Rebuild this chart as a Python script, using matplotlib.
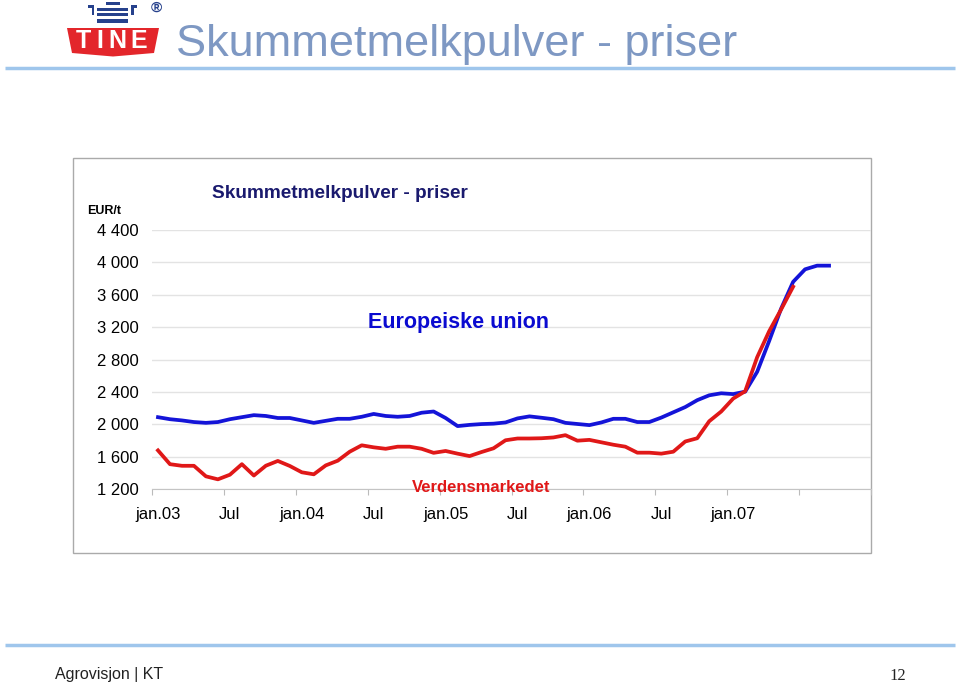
import matplotlib
matplotlib.use("Agg")
import matplotlib.pyplot as plt
from matplotlib.patches import Polygon, Rectangle
import numpy as np

plt.rcParams['font.family'] = ['Liberation Sans', 'DejaVu Sans']

# ---------------- data ----------------
tick_labels = ["jan.03", "Jul", "jan.04", "Jul", "jan.05", "Jul", "jan.06", "Jul", "jan.07"]
n_months = 60  # jan.03 .. des.07

eu_prices = [2090, 2065, 2050, 2030, 2020, 2030, 2065, 2090, 2115, 2105,
             2080, 2080, 2050, 2020, 2045, 2070, 2070, 2095, 2130, 2105,
             2095, 2105, 2145, 2160, 2080, 1980, 1995, 2005, 2010, 2025,
             2075, 2100, 2083, 2065, 2020, 2006, 1992, 2025, 2070, 2070,
             2030, 2030, 2085, 2150, 2215, 2300, 2360, 2385, 2375, 2405,
             2650, 3030, 3430, 3760, 3915, 3960, 3960]

world_prices = [1680, 1510, 1490, 1490, 1360, 1323, 1380, 1510, 1370, 1491,
                1550, 1488, 1410, 1385, 1495, 1553, 1664, 1743, 1718, 1700,
                1726, 1726, 1700, 1650, 1673, 1640, 1610, 1660, 1706, 1805,
                1827, 1827, 1830, 1840, 1868, 1800, 1810, 1780, 1750, 1726,
                1652, 1652, 1640, 1664, 1790, 1830, 2040, 2160, 2320, 2410,
                2830, 3150, 3420, 3700]

y_ticks = [1200, 1600, 2000, 2400, 2800, 3200, 3600, 4000, 4400]

# ---------------- figure ----------------
W, H = 960, 686
fig = plt.figure(figsize=(9.6, 6.86), dpi=100)
fig.patch.set_facecolor('white')

bg = fig.add_axes([0, 0, 1, 1])
bg.set_xlim(0, W)
bg.set_ylim(H, 0)
bg.axis('off')

# logo
bg.add_patch(Polygon([(67, 28), (159, 28), (154, 53), (113, 56.5), (72, 53)],
                     closed=True, fc='#e3262b', ec='none'))
for ch, cx in zip("TINE", [83.5, 100.3, 117.7, 139]):
    bg.text(cx, 48.5, ch, color='white', fontsize=18, fontweight='heavy',
            ha='center', va='baseline')
navy = '#26418c'
bg.add_patch(Rectangle((97, 8), 31, 3, fc=navy, ec='none'))
bg.add_patch(Rectangle((97, 13), 31, 3, fc=navy, ec='none'))
bg.add_patch(Rectangle((97, 18.5), 31, 4.5, fc=navy, ec='none'))
bg.add_patch(Rectangle((106, 2), 14, 3, fc=navy, ec='none'))
bg.add_patch(Rectangle((88, 5), 6, 2.5, fc=navy, ec='none'))
bg.add_patch(Rectangle((91.5, 5), 2.5, 10, fc=navy, ec='none'))
bg.add_patch(Rectangle((131, 5), 6, 2.5, fc=navy, ec='none'))
bg.add_patch(Rectangle((131, 5), 2.5, 10, fc=navy, ec='none'))
bg.text(156, 8, "®", color=navy, fontsize=11, fontweight='bold', ha='center', va='center')

# slide title
bg.text(176, 56, "Skummetmelkpulver - priser", fontsize=32.5, color='#7e98c3',
        ha='left', va='baseline')
bg.plot([5, 955], [68, 68], color='#9fc6ec', lw=2.5, solid_capstyle='butt')

# chart frame
bg.add_patch(Rectangle((73, 158), 798, 395, fill=False, ec='#aaaaaa', lw=1))

# chart texts
bg.text(340, 198, "Skummetmelkpulver - priser", fontsize=13.7, fontweight='bold',
        color='#1a1a6e', ha='center', va='baseline')
bg.text(87, 214, "EUR/t", fontsize=9, fontweight='bold', color='black',
        ha='left', va='baseline')

# footer
bg.plot([5, 955], [645, 645], color='#9fc6ec', lw=2.5, solid_capstyle='butt')
bg.text(55, 675, "Agrovisjon | KT", fontsize=11.5,
        family=['Liberation Sans Narrow', 'Liberation Sans', 'DejaVu Sans'],
        color='#222222', ha='left', va='center')
bg.text(898, 676, "12", fontsize=12, family=['Liberation Serif', 'DejaVu Serif'],
        color='#222222', ha='center', va='center')

# ---------------- chart ----------------
ax = fig.add_axes([152 / W, 1 - 489.3 / H, 719 / W, 259.3 / H])
ax.patch.set_alpha(0)
ax.set_xlim(-0.5, n_months - 0.5)
ax.set_ylim(y_ticks[0], y_ticks[-1])

ax.plot(np.arange(len(eu_prices)), eu_prices, color='#1414d8', lw=2.7,
        solid_joinstyle='round', zorder=3)
ax.plot(np.arange(len(world_prices)), world_prices, color='#e01818', lw=2.7,
        solid_joinstyle='round', zorder=3)

# series labels (drawn on top of grid lines / axis line)
ax.text(368, 328, "Europeiske union", fontsize=15.5, fontweight='bold',
        color='#0a0ad0', ha='left', va='baseline', transform=bg.transData,
        clip_on=False, zorder=5)
ax.text(412, 491.5, "Verdensmarkedet", fontsize=12, fontweight='bold',
        color='#e01818', ha='left', va='baseline', transform=bg.transData,
        clip_on=False, zorder=5)

ax.set_yticks(y_ticks)
ax.set_yticklabels([f"{v:,}".replace(",", " ") for v in y_ticks])
ax.yaxis.grid(True, color='#e3e3e3', lw=1)
ax.set_axisbelow(True)
ax.tick_params(axis='y', length=0, pad=9.5, labelsize=12)

ax.set_xticks(np.arange(-0.5, n_months, 6))
ax.set_xticklabels([])
ax.set_xticks(np.arange(0, 6 * len(tick_labels), 6), minor=True)
ax.set_xticklabels(tick_labels, minor=True)
ax.tick_params(axis='x', which='major', length=4, color='#bbbbbb', direction='out')
ax.tick_params(axis='x', which='minor', length=0, pad=13, labelsize=12)

for s in ['top', 'left', 'right']:
    ax.spines[s].set_visible(False)
ax.spines['bottom'].set_color('#c4c4c4')

fig.savefig("out.png", dpi=100, facecolor='white')
